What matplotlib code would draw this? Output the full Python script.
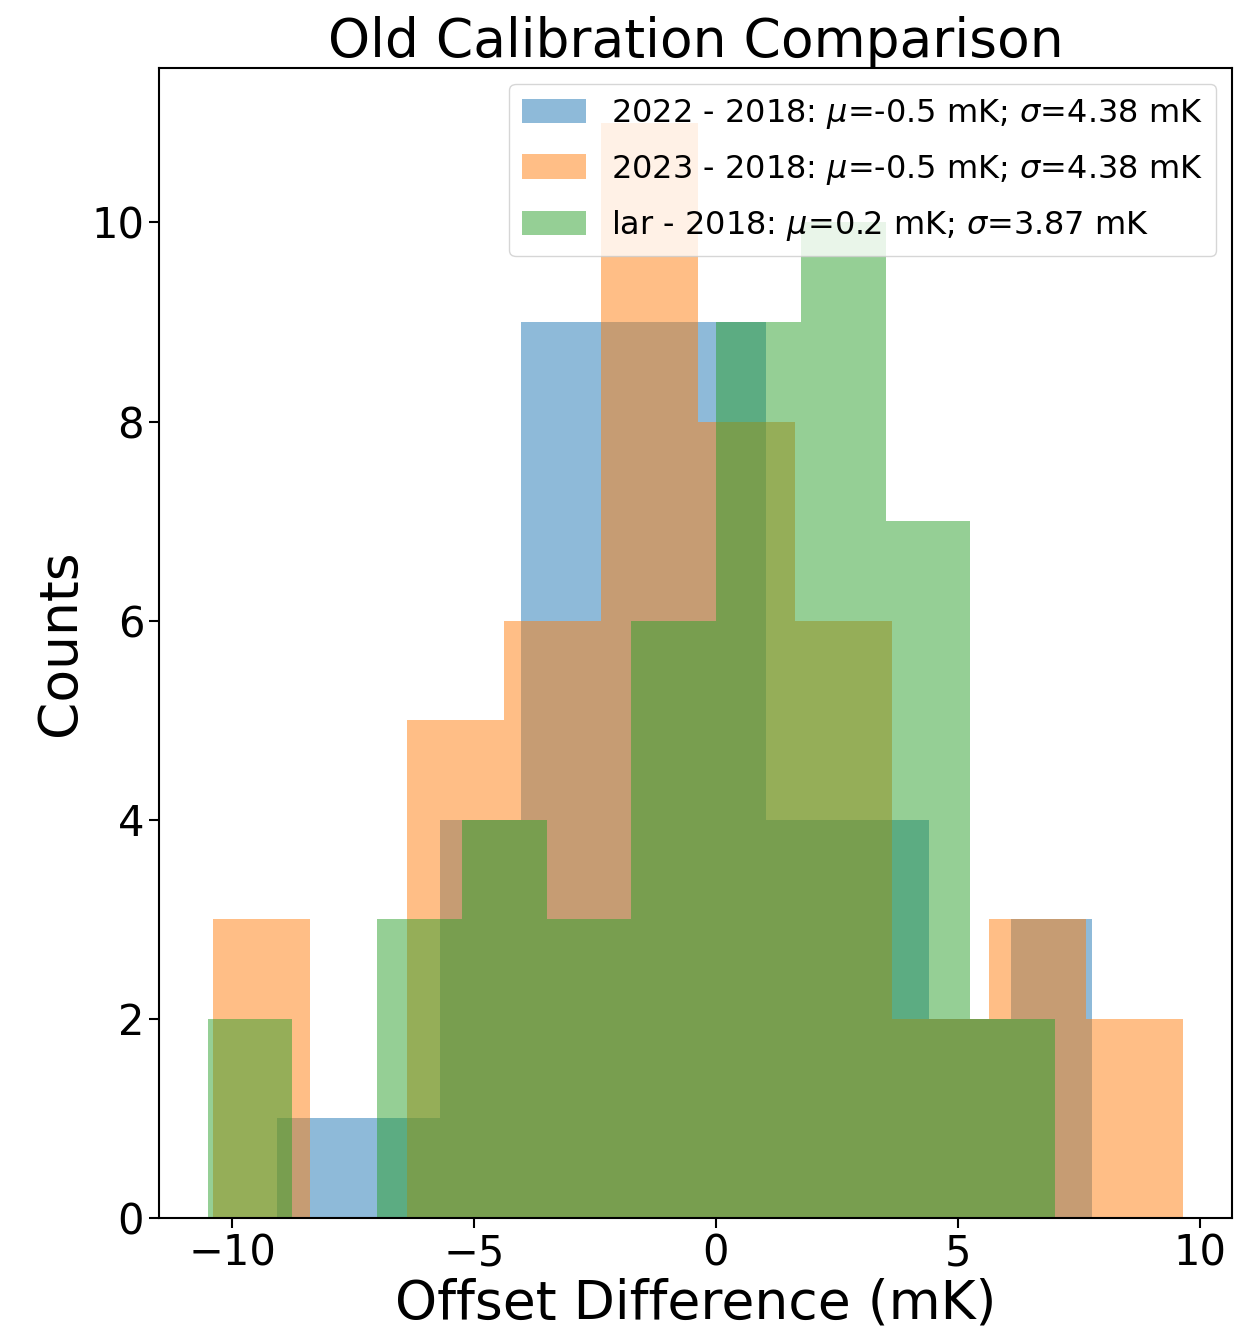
import numpy as np
import matplotlib
matplotlib.use('Agg')
import matplotlib.pyplot as plt

# Conteos por bin (10 bins) y rango de cada histograma
cuentas_2022 = [1, 1, 4, 9, 9, 9, 4, 4, 2, 3]
rango_2022 = (-9.08, 7.78)

cuentas_2023 = [3, 0, 5, 6, 11, 8, 6, 2, 3, 2]
rango_2023 = (-10.40, 9.66)

cuentas_lar = [2, 0, 3, 4, 3, 6, 9, 10, 7, 2]
rango_lar = (-10.51, 7.01)

etiquetas = [
    '2022 - 2018: $\\mu$=-0.5 mK; $\\sigma$=4.38 mK',
    '2023 - 2018: $\\mu$=-0.5 mK; $\\sigma$=4.38 mK',
    'lar - 2018: $\\mu$=0.2 mK; $\\sigma$=3.87 mK',
]

fig = plt.figure(figsize=(12.5, 13.36), dpi=100)
ax = fig.add_axes([0.127, 0.0883, 0.8586, 0.8607])

for cuentas, rango, etiqueta in zip([cuentas_2022, cuentas_2023, cuentas_lar],
                                    [rango_2022, rango_2023, rango_lar],
                                    etiquetas):
    bordes = np.linspace(rango[0], rango[1], len(cuentas) + 1)
    centros = (bordes[:-1] + bordes[1:]) / 2
    ax.hist(centros, bins=bordes, weights=cuentas, alpha=0.5, label=etiqueta)

ax.set_title('Old Calibration Comparison', fontsize=38.5, pad=3)
ax.set_xlabel('Offset Difference (mK)', fontsize=38.5, labelpad=2)
ax.set_ylabel('Counts', fontsize=38.5)
ax.tick_params(labelsize=30, length=7, width=1.5)
for s in ax.spines.values():
    s.set_linewidth(1.5)
ax.legend(loc='upper right', fontsize=23, labelspacing=0.68, handleheight=0.8)

fig.savefig('out.png', dpi=100)
